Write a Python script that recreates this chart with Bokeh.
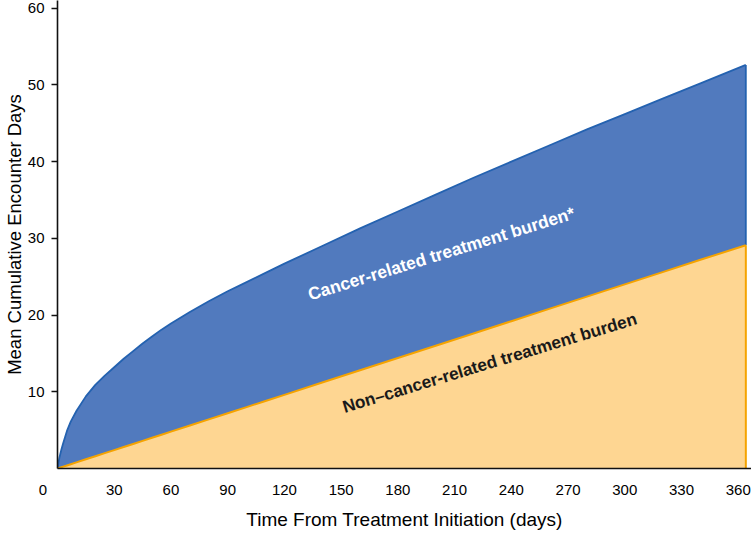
from bokeh.plotting import figure
from bokeh.models import FixedTicker, Label, Range1d
from bokeh.embed import file_html
from bokeh.resources import INLINE

# ---- data ----
days = [0, 1, 2, 3, 5, 7, 10, 15, 20, 25, 30, 35, 40, 45, 50, 55, 60, 70, 80,
        90, 100, 110, 120, 140, 160, 180, 200, 220, 240, 260, 280, 300, 320,
        340, 364]
total_burden = [0.0, 1.4, 2.4, 3.3, 4.9, 6.1, 7.5, 9.4, 10.9, 12.1, 13.2,
                14.3, 15.3, 16.3, 17.2, 18.1, 18.9, 20.4, 21.8, 23.1, 24.3,
                25.5, 26.7, 29.0, 31.3, 33.5, 35.7, 37.9, 40.0, 42.1, 44.2,
                46.2, 48.2, 50.2, 52.6]
noncancer_burden = [0.0, 0.08, 0.16, 0.24, 0.4, 0.56, 0.8, 1.2, 1.6, 2.0, 2.4,
                    2.8, 3.2, 3.6, 4.0, 4.4, 4.8, 5.6, 6.4, 7.2, 8.0, 8.8, 9.6,
                    11.2, 12.8, 14.4, 16.0, 17.6, 19.2, 20.8, 22.4, 24.0, 25.6,
                    27.2, 29.1]
x_ticks = [0, 30, 60, 90, 120, 150, 180, 210, 240, 270, 300, 330, 360]
y_ticks = [10, 20, 30, 40, 50, 60]

BLUE_FILL = "#517ABE"
BLUE_LINE = "#2462B0"
ORANGE_FILL = "#FED692"
ORANGE_LINE = "#F5A300"
FONT = "Liberation Sans"

p = figure(frame_width=694, frame_height=468, output_backend="svg",
           toolbar_location=None,
           x_range=Range1d(0, 367), y_range=Range1d(0, 61),
           min_border_left=50, min_border_right=0, min_border_top=0,
           min_border_bottom=59)
p.outline_line_color = None
p.grid.visible = False
p.background_fill_color = "white"

p.varea(x=days, y1=0, y2=noncancer_burden, fill_color=ORANGE_FILL)
p.varea(x=days, y1=noncancer_burden, y2=total_burden, fill_color=BLUE_FILL)
p.line(days, total_burden, line_color=BLUE_LINE, line_width=1.8,
       line_join="round")
p.segment(x0=[days[-1]], y0=[noncancer_burden[-1]], x1=[days[-1]],
          y1=[total_burden[-1]], line_color=BLUE_LINE, line_width=1.8)
p.line(days, noncancer_burden, line_color=ORANGE_LINE, line_width=2)
p.segment(x0=[days[-1]], y0=[0], x1=[days[-1]], y1=[noncancer_burden[-1]],
          line_color=ORANGE_LINE, line_width=2)

# x axis
xa = p.xaxis[0]
xa.ticker = FixedTicker(ticks=x_ticks)
# the origin label sits left of the axis corner in the reference
xa.major_label_overrides = {0: "0" + "\u00a0" * 7}
xa.major_tick_out = 0
xa.major_tick_in = 0
xa.minor_tick_out = 0
xa.minor_tick_in = 0
xa.major_label_standoff = 12
xa.major_label_text_font = FONT
xa.major_label_text_font_size = "15px"
xa.major_label_text_color = "black"
xa.axis_label = "Time From Treatment Initiation (days)"
xa.axis_label_text_font = FONT
xa.axis_label_text_font_size = "19px"
xa.axis_label_text_font_style = "normal"
xa.axis_label_text_color = "black"
xa.axis_label_standoff = 8
xa.axis_line_color = "#111111"
xa.axis_line_width = 1.6

# y axis
ya = p.yaxis[0]
ya.ticker = FixedTicker(ticks=y_ticks)
ya.major_tick_out = 6
ya.major_tick_in = 0
ya.minor_tick_out = 0
ya.minor_tick_in = 0
ya.major_tick_line_color = "#111111"
ya.major_tick_line_width = 1.4
ya.major_label_standoff = 7
ya.major_label_text_font = FONT
ya.major_label_text_font_size = "15px"
ya.major_label_text_color = "black"
ya.axis_label = "Mean Cumulative Encounter Days"
ya.axis_label_text_font = FONT
ya.axis_label_text_font_size = "18.5px"
ya.axis_label_text_font_style = "normal"
ya.axis_label_text_color = "black"
ya.axis_label_standoff = 0
ya.axis_line_color = "#111111"
ya.axis_line_width = 1.6

# area annotations
p.add_layout(Label(x=203, y=28.0, text="Cancer-related treatment burden*",
                   angle=0.300, text_align="center", text_baseline="middle",
                   text_font=FONT, text_font_size="17.5px",
                   text_font_style="bold", text_color="white"))
p.add_layout(Label(x=228.5, y=13.8, text="Non\u2013cancer-related treatment burden",
                   angle=0.295, text_align="center", text_baseline="middle",
                   text_font=FONT, text_font_size="17.2px",
                   text_font_style="bold", text_color="#1a1a1a"))

open("out.html", "w").write(file_html(p, INLINE))
